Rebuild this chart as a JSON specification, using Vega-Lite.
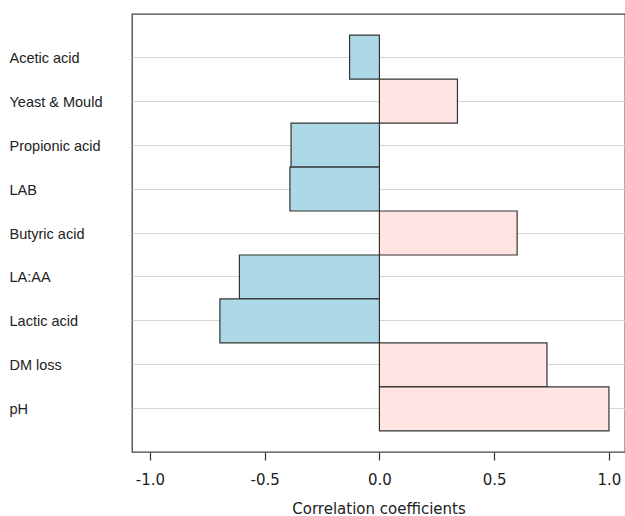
{
  "$schema": "https://vega.github.io/schema/vega-lite/v6.json",
  "autosize": {"type": "none"},
  "padding": {"left": 132, "top": 14, "right": 0, "bottom": 64},
  "width": 493,
  "height": 438,
  "background": "white",
  "config": {
    "view": {"stroke": "#444", "strokeWidth": 1.3},
    "font": "Liberation Sans"
  },
  "data": {
    "values": [
      {"variable": "Acetic acid", "r": -0.13},
      {"variable": "Yeast & Mould", "r": 0.34},
      {"variable": "Propionic acid", "r": -0.385},
      {"variable": "LAB", "r": -0.39},
      {"variable": "Butyric acid", "r": 0.6},
      {"variable": "LA:AA", "r": -0.61},
      {"variable": "Lactic acid", "r": -0.695},
      {"variable": "DM loss", "r": 0.73},
      {"variable": "pH", "r": 1.0}
    ]
  },
  "mark": {"type": "bar", "stroke": "#333", "strokeWidth": 1.2},
  "encoding": {
    "y": {
      "field": "variable",
      "type": "nominal",
      "sort": null,
      "scale": {"paddingInner": 0, "paddingOuter": 0.48},
      "axis": {
        "title": null,
        "domain": false,
        "ticks": false,
        "grid": true,
        "gridColor": "#d6d6d6",
        "gridWidth": 1.2,
        "labelAlign": "left",
        "labelPadding": 123,
        "labelOffset": 1.5,
        "labelFontSize": 14.5,
        "labelColor": "#222",
        "labelFont": "Liberation Sans"
      }
    },
    "x": {
      "field": "r",
      "type": "quantitative",
      "scale": {"domain": [-1.078, 1.07], "nice": false, "zero": false},
      "axis": {
        "title": "Correlation coefficients",
        "titleFontSize": 15,
        "titleFontWeight": "normal",
        "titleColor": "#222",
        "titleFont": "DejaVu Sans",
        "titlePadding": 14,
        "values": [-1, -0.5, 0, 0.5, 1],
        "format": ".1f",
        "labelExpr": "replace(datum.label, '\u2212', '-')",
        "grid": false,
        "domain": false,
        "tickSize": 8,
        "tickColor": "#333",
        "tickWidth": 1.2,
        "labelPadding": 12,
        "labelFontSize": 15,
        "labelColor": "#222",
        "labelFont": "DejaVu Sans"
      }
    },
    "fill": {
      "condition": {"test": "datum.r < 0", "value": "#ADD8E6"},
      "value": "#FFE4E1"
    }
  }
}
